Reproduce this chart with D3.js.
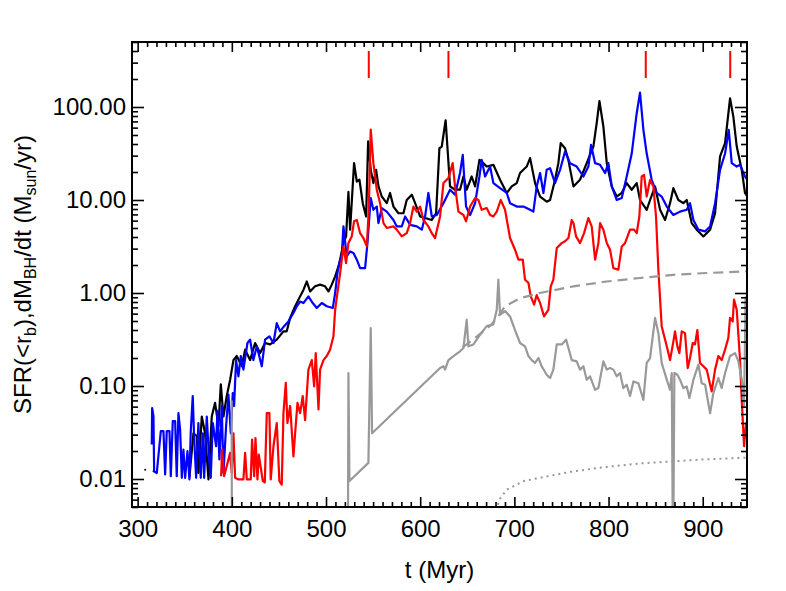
<!DOCTYPE html>
<html>
<head>
<meta charset="utf-8">
<script src="https://cdn.jsdelivr.net/npm/d3@7"></script>
<style>
  html, body { margin: 0; padding: 0; background: #fff; }
  svg { display: block; }
  text { font-family: "Liberation Sans", Arial, Helvetica, sans-serif; fill: #000; }
</style>
</head>
<body>
<svg id="chart" width="786" height="591"></svg>
<script>
// ---------------- DATA (t in Myr, rate in Msun/yr) ----------------
const xTickValues = [300, 400, 500, 600, 700, 800, 900];
const yTickValues = [0.01, 0.1, 1, 10, 100];
const yTickLabels = ["0.01", "0.10", "1.00", "10.00", "100.00"];

// black: total SFR
const blackSeries = [
  [355,0.0105],[359.2,0.031],[362.8,0.029],[364.5,0.0116],[368.1,0.047],[371.6,0.031],[375.2,0.0099],
  [378.7,0.047],[382.2,0.066],[385.8,0.037],[388.3,0.104],[391.1,0.047],[394.6,0.078],[398.2,0.117],
  [401.7,0.19],[405.2,0.21],[410.6,0.163],[414.1,0.246],[419.4,0.19],[424.7,0.29],[430.0,0.226],
  [435.3,0.29],[440.6,0.28],[447.7,0.315],[454.8,0.387],[458.3,0.387],[461.9,0.54],[467.2,0.72],
  [472.5,0.92],[476.0,1.08],[479.6,1.33],[483.1,1.04],[488.4,1.18],[493.7,1.23],[499.0,1.18],
  [502.6,1.04],[506.1,1.23],[509.7,1.51],[513.2,1.93],[515,2.28],[518.5,3.44],[521.3,4.06],
  [523.8,12.2],[525.6,4.8],[529.8,24.9],[532.7,15.8],[535.5,16.5],[539.0,9.25],[542.6,6.65],
  [544.7,42.6],[547.5,21.1],[550.3,15.2],[553.2,21.1],[555.7,14.0],[559.2,10.9],[564.5,9.25],
  [568.0,11.9],[571.6,8.5],[576.9,7.2],[582.2,7.2],[585.7,10.0],[591.1,11.4],[594.6,9.25],
  [599.9,6.65],[605.2,6.4],[612.3,6.1],[616.9,7.2],[620.4,36],[622.9,37.5],[627.0,72],
  [631.7,14.0],[637.0,12.9],[642.3,12.9],[645.9,17.9],[649.4,12.9],[654.7,17.9],[658.3,14.0],
  [662.9,27],[667.1,24.9],[670.6,22.9],[677.7,23.9],[684.8,16.5],[691.9,11.9],[697.2,14.0],
  [702.5,15.2],[706.0,19.5],[713.1,22.9],[716.7,28.2],[722.0,15.2],[727.3,10.9],[734.3,9.6],
  [737.9,10.0],[743.2,16.5],[746.7,24.9],[749.2,40.8],[753.8,36],[757.3,27],[762.7,14.0],
  [769.7,16.5],[776.8,24.9],[783.9,37.6],[787.4,67],[790.3,116],[794.5,61.7],[798.1,24.9],
  [803.4,14.0],[808.7,10.9],[814.0,11.9],[819.3,15.2],[824.6,12.9],[829.9,15.2],[833.4,10.0],
  [840.5,7.85],[844.1,10.0],[849.4,14.0],[854.7,7.85],[860.0,6.1],[865.3,9.25],[868.8,13.4],
  [874.1,10.0],[879.4,9.25],[883.0,10.0],[888.3,5.65],[893.6,4.8],[900.7,4.06],[907.8,4.8],
  [913.1,7.2],[918.4,29.4],[923.7,40.8],[929.0,124],[932.5,78.9],[936.1,37.6],[941.4,21.1],
  [944.9,11.9],[947.4,10.9]
];
const blackDots = [[308,0.0126],[316.8,0.0121]];

// blue
const blueSeries = [
  [315,0.0235],[315.4,0.058],[316.8,0.047],[317.5,0.0121],[320.3,0.0116],[324.6,0.0327],[327.4,0.0327],
  [329.2,0.0112],[330.9,0.0327],[333.8,0.0327],[335.2,0.0107],[337.3,0.042],[339.8,0.042],[341.5,0.0107],
  [343.3,0.051],[345.1,0.034],[346.9,0.0103],[348.6,0.0207],[350.4,0.0103],[352.9,0.0199],[355.0,0.0099],
  [356.4,0.0327],[358.5,0.078],[359.9,0.029],[362.1,0.0103],[364.5,0.040],[367.0,0.0103],[369.2,0.031],
  [370.6,0.0103],[373.4,0.047],[375.5,0.0191],[377.6,0.0103],[379.8,0.040],[383.3,0.0225],[384.7,0.054],
  [386.8,0.0162],[389.3,0.061],[391.1,0.0116],[393.9,0.037],[396.4,0.081],[398.9,0.031],[401.0,0.084],
  [402.4,0.061],[404.5,0.19],[407.0,0.127],[409.5,0.21],[412.3,0.15],[416.6,0.29],[419.4,0.315],
  [422.9,0.19],[426.5,0.267],[431.8,0.163],[435.3,0.315],[439.9,0.342],[444.2,0.29],[447.7,0.475],
  [451.3,0.387],[455.5,0.44],[460.1,0.495],[465.4,0.61],[469.0,0.72],[472.5,0.81],[476.0,0.78],
  [481.3,0.92],[485.9,0.78],[490.2,0.69],[495.5,0.78],[500.8,0.72],[507.2,0.69],[509.7,1.0],
  [512.1,1.64],[515.0,2.28],[516.7,2.48],[518.5,5.2],[522.0,2.48],[525.6,2.8],[529.1,2.7],
  [532.7,2.28],[536.2,1.85],[541.5,1.85],[544.0,3.44],[547.5,10.5],[550.3,7.85],[553.9,8.5],
  [555.7,5.65],[559.2,8.2],[564.5,7.5],[571.6,6.1],[575.1,5.2],[580.4,5.2],[584.0,6.65],
  [589.3,5.4],[596.4,5.2],[601.7,4.8],[605.2,6.65],[608.7,11.9],[612.3,6.65],[617.6,6.9],
  [624.7,9.25],[630.0,11.9],[631.7,12.9],[637.0,11.4],[642.3,19.5],[645.2,30.6],[648.7,8.5],
  [653.0,6.9],[658.3,9.25],[662.9,17.9],[665.3,27],[668.9,17.9],[674.2,22.9],[677.7,15.2],
  [684.8,13.4],[691.9,11.9],[695.4,9.25],[702.5,8.5],[709.6,8.5],[716.7,7.85],[720.2,7.5],
  [723.7,14.0],[727.3,19.5],[730.8,11.9],[734.3,21.1],[737.9,22],[743.2,15.2],[748.5,21.1],
  [753.8,33.2],[759.1,24.9],[766.2,22.9],[773.3,17.9],[778.6,22.9],[781.4,39.2],[785.7,24.9],
  [791.0,23.9],[796.3,19.5],[799.8,24.9],[803.4,14.0],[808.7,10.0],[814.0,10.5],[819.3,17.9],
  [824.6,31.6],[829.9,85.7],[833.4,143],[837.0,56.8],[840.5,31.6],[845.8,16.5],[851.1,11.9],
  [856.4,10.9],[861.8,8.5],[868.8,6.9],[875.9,7.5],[883.0,7.85],[886.5,9.25],[890.1,6.1],
  [895.4,4.8],[902.5,4.6],[907.8,5.2],[913.1,9.25],[918.4,21.1],[923.7,31.6],[927.6,56.8],
  [930.8,24.9],[936.1,22.9],[939.6,23.9],[944.9,17.9],[947.4,16.5]
];

// red
const redSeries = [
  [388.6,0.0107],[389.7,0.0207],[391.8,0.0107],[398.2,0.0191],[399.9,0.0116],[401.7,0.031],[403.5,0.0103],
  [407.0,0.0099],[412.3,0.0099],[414.1,0.0191],[415.9,0.0099],[420.1,0.0099],[421.5,0.0265],[423.7,0.0107],
  [425.1,0.0276],[427.2,0.0099],[428.6,0.0183],[432.9,0.0095],[435.0,0.0092],[437.1,0.051],[439.9,0.051],
  [441.3,0.0099],[444.2,0.0225],[447.7,0.040],[450.5,0.0095],[453.0,0.0087],[454.8,0.051],[457.3,0.108],
  [459.0,0.040],[461.9,0.061],[465.4,0.0175],[467.2,0.031],[469.7,0.066],[472.5,0.051],[475.3,0.078],
  [477.8,0.043],[481.3,0.15],[484.9,0.19],[487.4,0.099],[489.1,0.226],[492.0,0.056],[493.7,0.15],
  [497.3,0.19],[500.8,0.21],[504.3,0.246],[507.9,0.342],[509.7,0.66],[512.1,1.0],[515.0,1.64],
  [518.5,3.17],[521.3,2.1],[523.8,3.44],[527.3,4.06],[529.8,5.9],[532.7,6.1],[536.2,4.4],
  [539.7,3.9],[543.3,3.17],[545.4,7.85],[547.5,57],[550.3,24.9],[553.9,12.9],[557.4,9.25],
  [561.0,5.65],[564.5,5.0],[571.6,5.2],[575.1,4.8],[580.4,4.06],[585.7,4.4],[589.3,5.65],
  [592.8,8.5],[596.4,7.5],[599.9,8.5],[603.4,6.1],[608.7,5.2],[612.3,4.4],[615.8,3.9],
  [621.1,6.65],[624.7,15.2],[628.2,16.5],[630.0,17.2],[634.5,24.9],[637.0,14.0],[640.6,7.5],
  [645.9,6.9],[648.7,5.9],[653.0,8.5],[658.3,10.5],[661.8,10.0],[665.3,7.85],[670.6,8.2],
  [674.2,6.9],[677.7,6.65],[681.3,7.5],[685.5,10.0],[690.1,7.85],[695.4,3.9],[700.7,2.92],
  [704.3,2.28],[708.9,2.28],[711.3,1.39],[714.9,1.29],[717.4,0.92],[720.9,0.75],[723.7,0.95],
  [727.3,0.78],[731.5,0.56],[736.1,0.66],[738.6,1.18],[741.4,1.39],[745.0,3.04],[750.3,3.44],
  [753.8,3.6],[757.4,3.9],[760.9,6.1],[762.7,5.65],[765.5,4.06],[769.7,3.44],[774.0,4.4],
  [778.6,6.4],[782.1,5.2],[785.7,2.28],[789.2,3.44],[791.0,5.65],[794.5,4.8],[798.1,3.44],
  [801.6,2.92],[805.1,1.85],[810.4,1.78],[814.0,3.17],[817.5,3.44],[822.8,4.8],[827.1,4.8],
  [829.9,4.4],[832.7,6.65],[835.2,17.9],[837.7,18.6],[840.5,10.9],[844.1,16.5],[847.6,14.0],
  [850.4,6.65],[852.9,1.78],[856.4,0.44],[861.8,0.267],[865.3,0.19],[868.8,0.30],[870.6,0.387],
  [873.1,0.267],[875.2,0.226],[877.7,0.387],[881.2,0.37],[884.1,0.156],[886.5,0.2],[889.4,0.29],
  [891.8,0.28],[894.3,0.40],[897.1,0.177],[900.7,0.163],[904.2,0.15],[909.5,0.0877],[913.1,0.15],
  [916.6,0.21],[920.1,0.19],[923.7,0.246],[927.2,0.33],[929.0,0.54],[931.8,0.495],[933.2,0.85],
  [936.1,0.66],[939.6,0.19],[941.4,0.071],[943.9,0.0225],[946.0,0.040],[948.4,0.038]
];

// gray solid
const graySeries = [
  [399.8,0.07],[400.1,0.001],[523.2,0.001],[523.8,0.138],[524.9,0.0095],[545.0,0.0149],[547.5,0.42],
  [548.9,0.031],[621.1,0.156],[624.7,0.163],
  [626.4,0.15],[630.0,0.19],[635.3,0.21],[642.3,0.236],[645.9,0.256],[649.4,0.516],[651.2,0.267],
  [656.5,0.28],[663.6,0.356],[670.6,0.44],[677.7,0.46],[681.3,0.66],[683.0,1.39],[684.8,0.585],
  [690.1,0.64],[695.4,0.56],[700.7,0.40],[706.0,0.29],[711.3,0.267],[714.9,0.21],[718.4,0.19],
  [722.0,0.177],[725.5,0.2],[729.0,0.163],[734.3,0.132],[737.9,0.122],[741.4,0.15],[745.0,0.28],
  [750.3,0.28],[754.9,0.315],[757.4,0.256],[760.9,0.19],[766.2,0.184],[769.7,0.15],[773.3,0.163],
  [776.8,0.117],[780.4,0.127],[785.7,0.091],[789.2,0.095],[794.5,0.184],[798.1,0.15],[801.6,0.156],
  [805.1,0.15],[808.7,0.127],[812.2,0.138],[815.7,0.095],[819.3,0.103],[822.8,0.078],[826.4,0.112],
  [831.7,0.107],[837.0,0.071],[840.5,0.177],[844.1,0.2],[849.4,0.54],[852.9,0.37],[856.4,0.177],
  [861.8,0.117],[865.3,0.091],[867.1,0.138],[868.5,0.001],[869.9,0.138],[873.1,0.132],[875.9,0.117],
  [879.4,0.095],[883.0,0.099],[885.8,0.0745],[890.1,0.117],[895.4,0.17],[898.9,0.107],[902.5,0.103],
  [907.8,0.051],[911.3,0.084],[916.6,0.122],[920.1,0.095],[923.7,0.138],[929.0,0.21],[934.3,0.226],
  [937.9,0.184],[941.4,0.117],[943.9,0.061],[945.5,0.9],[947.0,0.2]
];

// gray dashed
const grayDashed = [
  [645,0.26],[660,0.34],[675,0.45],[685,0.6],[690,0.72],[706,0.88],[727,1.0],[762.6,1.18],
  [798,1.33],[833.4,1.45],[868.8,1.57],[904,1.64],[947,1.71]
];

// gray dotted
const grayDotted = [
  [678,0.004],[685,0.0062],[692,0.0077],[710,0.0095],[727,0.0103],[762.6,0.0121],[798,0.0135],
  [833.4,0.0147],[868.8,0.0155],[904,0.0163],[947,0.017]
];

// red event markers
const markerTimes = [545.4, 630.0, 839.5, 929.2];
const markerRange = [205, 400];

// ---------------- CHART ----------------
(function () {
const svg = d3.select("#chart");
const pL = 132, pR = 747, pT = 42, pB = 507;
const x = d3.scaleLinear().domain([294, 947]).range([pL, pR]);
const y = d3.scaleLog().domain([0.005, 500]).range([pB, pT]);

svg.append("defs").append("clipPath").attr("id", "plotclip")
  .append("rect").attr("x", pL).attr("y", pT).attr("width", pR - pL).attr("height", pB - pT);

const plot = svg.append("g").attr("clip-path", "url(#plotclip)");
const line = d3.line().x(d => x(d[0])).y(d => y(d[1]));
const lw = 2.2;

plot.append("path").datum(blackSeries).attr("d", line)
  .attr("fill", "none").attr("stroke", "#000").attr("stroke-width", lw).attr("stroke-linejoin", "round");
plot.selectAll("circle.bd").data(blackDots).enter().append("circle")
  .attr("cx", d => x(d[0])).attr("cy", d => y(d[1])).attr("r", 1).attr("fill", "#000");
plot.append("path").datum(blueSeries).attr("d", line)
  .attr("fill", "none").attr("stroke", "#0000ff").attr("stroke-width", lw).attr("stroke-linejoin", "round");
plot.append("path").datum(redSeries).attr("d", line)
  .attr("fill", "none").attr("stroke", "#ff0000").attr("stroke-width", lw).attr("stroke-linejoin", "round");
plot.append("path").datum(graySeries).attr("d", line)
  .attr("fill", "none").attr("stroke", "#999999").attr("stroke-width", lw).attr("stroke-linejoin", "round");
plot.append("path").datum(grayDashed).attr("d", line)
  .attr("fill", "none").attr("stroke", "#999999").attr("stroke-width", lw).attr("stroke-dasharray", "10,6");
plot.append("path").datum(grayDotted).attr("d", line)
  .attr("fill", "none").attr("stroke", "#999999").attr("stroke-width", 2).attr("stroke-dasharray", "2,4");

plot.selectAll("line.marker").data(markerTimes).enter().append("line")
  .attr("x1", d => x(d)).attr("x2", d => x(d))
  .attr("y1", y(markerRange[0])).attr("y2", y(markerRange[1]))
  .attr("stroke", "#ff0000").attr("stroke-width", 2);

// axes
const minorX = d3.range(300, 947, 10).filter(v => v % 100 !== 0);
const minorY = [];
[0.001, 0.01, 0.1, 1, 10, 100].forEach(d => { for (let k = 2; k <= 9; k++) { const v = d * k; if (v >= 0.005 && v <= 500) minorY.push(v); } });

function styleAxis(g) {
  g.select(".domain").remove();
  g.selectAll(".tick line").attr("stroke", "#000").attr("stroke-width", 1.6);
  g.selectAll(".tick text").style("font-size", "24px").style("font-family", "'Liberation Sans', Arial, Helvetica, sans-serif");
}

svg.append("g").attr("transform", `translate(0,${pB})`)
  .call(d3.axisBottom(x).tickValues(xTickValues).tickSizeInner(-10).tickSizeOuter(0).tickPadding(13).tickFormat(d3.format("d")))
  .call(styleAxis);
svg.append("g").attr("transform", `translate(0,${pB})`)
  .call(d3.axisBottom(x).tickValues(minorX).tickSizeInner(-5).tickSizeOuter(0).tickFormat(""))
  .call(styleAxis);
svg.append("g").attr("transform", `translate(0,${pT})`)
  .call(d3.axisTop(x).tickValues(xTickValues).tickSizeInner(-10).tickSizeOuter(0).tickFormat(""))
  .call(styleAxis);
svg.append("g").attr("transform", `translate(0,${pT})`)
  .call(d3.axisTop(x).tickValues(minorX).tickSizeInner(-5).tickSizeOuter(0).tickFormat(""))
  .call(styleAxis);
svg.append("g").attr("transform", `translate(${pL},0)`)
  .call(d3.axisLeft(y).tickValues(yTickValues).tickSizeInner(-12).tickSizeOuter(0).tickPadding(6)
    .tickFormat((d, i) => yTickLabels[i]))
  .call(styleAxis);
svg.append("g").attr("transform", `translate(${pL},0)`)
  .call(d3.axisLeft(y).tickValues(minorY).tickSizeInner(-6).tickSizeOuter(0).tickFormat(""))
  .call(styleAxis);
svg.append("g").attr("transform", `translate(${pR},0)`)
  .call(d3.axisRight(y).tickValues(yTickValues).tickSizeInner(-12).tickSizeOuter(0).tickFormat(""))
  .call(styleAxis);
svg.append("g").attr("transform", `translate(${pR},0)`)
  .call(d3.axisRight(y).tickValues(minorY).tickSizeInner(-6).tickSizeOuter(0).tickFormat(""))
  .call(styleAxis);

svg.append("rect").attr("x", pL).attr("y", pT).attr("width", pR - pL).attr("height", pB - pT)
  .attr("fill", "none").attr("stroke", "#000").attr("stroke-width", 2);

svg.append("text").attr("x", (pL + pR) / 2).attr("y", 578).attr("text-anchor", "middle")
  .style("font-size", "24px").text("t (Myr)");

const yl = svg.append("text").attr("transform", `translate(31,${(pT + pB) / 2}) rotate(-90)`)
  .attr("text-anchor", "middle").style("font-size", "24px");
const parts = [["SFR(<r", 0], ["b", 1], ["),dM", 0], ["BH", 1], ["/dt (M", 0], ["sun", 1], ["/yr)", 0]];
let prevSub = 0;
parts.forEach(([s, sub]) => {
  const ts = yl.append("tspan").text(s);
  const shift = 5;
  if (sub) ts.style("font-size", "16px");
  if (sub && !prevSub) ts.attr("dy", shift);
  else if (!sub && prevSub) ts.attr("dy", -shift);
  prevSub = sub;
});
})();
</script>
</body>
</html>
